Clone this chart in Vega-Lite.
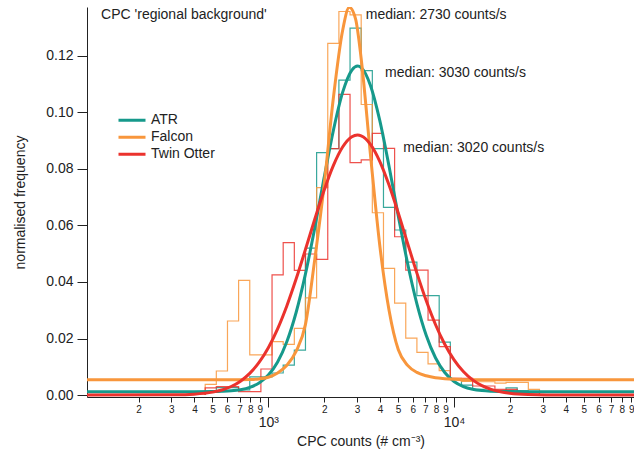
{
  "$schema": "https://vega.github.io/schema/vega-lite/v6.json",
  "width": 547,
  "height": 390,
  "autosize": "none",
  "padding": {"left": 87, "top": 7, "right": 0, "bottom": 53},
  "background": "white",
  "config": {
    "view": {"stroke": null},
    "font": "Liberation Sans",
    "axis": {"grid": false, "domainColor": "#222", "tickColor": "#222", "labelColor": "#222", "titleColor": "#222", "labelFont": "Liberation Sans", "titleFont": "Liberation Sans", "titleFontWeight": "normal"}
  },
  "datasets": {
    "hist": [
      {"s": "ATR", "i": 0, "x": 457.1, "y": 0},
      {"s": "ATR", "i": 1, "x": 457.1, "y": 0.0012},
      {"s": "ATR", "i": 2, "x": 524.8, "y": 0.0026},
      {"s": "ATR", "i": 3, "x": 602.6, "y": 0.0026},
      {"s": "ATR", "i": 4, "x": 691.8, "y": 0.0018},
      {"s": "ATR", "i": 5, "x": 794.3, "y": 0.0064},
      {"s": "ATR", "i": 6, "x": 912.0, "y": 0.0064},
      {"s": "ATR", "i": 7, "x": 1047.1, "y": 0.0078},
      {"s": "ATR", "i": 8, "x": 1202.3, "y": 0.0106},
      {"s": "ATR", "i": 9, "x": 1380.4, "y": 0.0159},
      {"s": "ATR", "i": 10, "x": 1584.9, "y": 0.052},
      {"s": "ATR", "i": 11, "x": 1819.7, "y": 0.0858},
      {"s": "ATR", "i": 12, "x": 2089.3, "y": 0.0872},
      {"s": "ATR", "i": 13, "x": 2398.8, "y": 0.1114},
      {"s": "ATR", "i": 14, "x": 2754.2, "y": 0.1298},
      {"s": "ATR", "i": 15, "x": 3162.3, "y": 0.1148},
      {"s": "ATR", "i": 16, "x": 3630.8, "y": 0.0872},
      {"s": "ATR", "i": 17, "x": 4168.7, "y": 0.0664},
      {"s": "ATR", "i": 18, "x": 4786.3, "y": 0.0584},
      {"s": "ATR", "i": 19, "x": 5495.4, "y": 0.047},
      {"s": "ATR", "i": 20, "x": 6309.6, "y": 0.0352},
      {"s": "ATR", "i": 21, "x": 7244.4, "y": 0.0352},
      {"s": "ATR", "i": 22, "x": 8317.6, "y": 0.0187},
      {"s": "ATR", "i": 23, "x": 9549.9, "y": 0.0055},
      {"s": "ATR", "i": 24, "x": 10964.8, "y": 0.0035},
      {"s": "ATR", "i": 25, "x": 12589.3, "y": 0.002},
      {"s": "ATR", "i": 26, "x": 14454.4, "y": 0.0015},
      {"s": "ATR", "i": 27, "x": 16595.9, "y": 0.0015},
      {"s": "ATR", "i": 28, "x": 19054.6, "y": 0.0025},
      {"s": "ATR", "i": 29, "x": 21877.6, "y": 0.0015},
      {"s": "ATR", "i": 30, "x": 25118.9, "y": 0.0012},
      {"s": "ATR", "i": 31, "x": 28840.3, "y": 0},
      {"s": "Falcon", "i": 0, "x": 457.1, "y": 0},
      {"s": "Falcon", "i": 1, "x": 457.1, "y": 0.0038},
      {"s": "Falcon", "i": 2, "x": 524.8, "y": 0.0085},
      {"s": "Falcon", "i": 3, "x": 602.6, "y": 0.0262},
      {"s": "Falcon", "i": 4, "x": 691.8, "y": 0.0406},
      {"s": "Falcon", "i": 5, "x": 794.3, "y": 0.0142},
      {"s": "Falcon", "i": 6, "x": 912.0, "y": 0.0142},
      {"s": "Falcon", "i": 7, "x": 1047.1, "y": 0.0189},
      {"s": "Falcon", "i": 8, "x": 1202.3, "y": 0.0179},
      {"s": "Falcon", "i": 9, "x": 1380.4, "y": 0.0236},
      {"s": "Falcon", "i": 10, "x": 1584.9, "y": 0.0344},
      {"s": "Falcon", "i": 11, "x": 1819.7, "y": 0.0734},
      {"s": "Falcon", "i": 12, "x": 2089.3, "y": 0.1244},
      {"s": "Falcon", "i": 13, "x": 2398.8, "y": 0.1357},
      {"s": "Falcon", "i": 14, "x": 2754.2, "y": 0.1345},
      {"s": "Falcon", "i": 15, "x": 3162.3, "y": 0.1028},
      {"s": "Falcon", "i": 16, "x": 3630.8, "y": 0.0645},
      {"s": "Falcon", "i": 17, "x": 4168.7, "y": 0.0448},
      {"s": "Falcon", "i": 18, "x": 4786.3, "y": 0.0325},
      {"s": "Falcon", "i": 19, "x": 5495.4, "y": 0.0201},
      {"s": "Falcon", "i": 20, "x": 6309.6, "y": 0.0151},
      {"s": "Falcon", "i": 21, "x": 7244.4, "y": 0.011},
      {"s": "Falcon", "i": 22, "x": 8317.6, "y": 0.0086},
      {"s": "Falcon", "i": 23, "x": 9549.9, "y": 0.0059},
      {"s": "Falcon", "i": 24, "x": 10964.8, "y": 0.0048},
      {"s": "Falcon", "i": 25, "x": 12589.3, "y": 0.0047},
      {"s": "Falcon", "i": 26, "x": 14454.4, "y": 0.0047},
      {"s": "Falcon", "i": 27, "x": 16595.9, "y": 0.0042},
      {"s": "Falcon", "i": 28, "x": 19054.6, "y": 0.0045},
      {"s": "Falcon", "i": 29, "x": 21877.6, "y": 0.0045},
      {"s": "Falcon", "i": 30, "x": 25118.9, "y": 0.002},
      {"s": "Falcon", "i": 31, "x": 28840.3, "y": 0},
      {"s": "Twin Otter", "i": 0, "x": 457.1, "y": 0},
      {"s": "Twin Otter", "i": 1, "x": 457.1, "y": 0.0025},
      {"s": "Twin Otter", "i": 2, "x": 524.8, "y": 0.003},
      {"s": "Twin Otter", "i": 3, "x": 602.6, "y": 0.003},
      {"s": "Twin Otter", "i": 4, "x": 691.8, "y": 0.0012},
      {"s": "Twin Otter", "i": 5, "x": 794.3, "y": 0.0012},
      {"s": "Twin Otter", "i": 6, "x": 912.0, "y": 0.0092},
      {"s": "Twin Otter", "i": 7, "x": 1047.1, "y": 0.0425},
      {"s": "Twin Otter", "i": 8, "x": 1202.3, "y": 0.0539},
      {"s": "Twin Otter", "i": 9, "x": 1380.4, "y": 0.0441},
      {"s": "Twin Otter", "i": 10, "x": 1584.9, "y": 0.0499},
      {"s": "Twin Otter", "i": 11, "x": 1819.7, "y": 0.048},
      {"s": "Twin Otter", "i": 12, "x": 2089.3, "y": 0.0872},
      {"s": "Twin Otter", "i": 13, "x": 2398.8, "y": 0.1064},
      {"s": "Twin Otter", "i": 14, "x": 2754.2, "y": 0.0822},
      {"s": "Twin Otter", "i": 15, "x": 3162.3, "y": 0.0832},
      {"s": "Twin Otter", "i": 16, "x": 3630.8, "y": 0.0926},
      {"s": "Twin Otter", "i": 17, "x": 4168.7, "y": 0.0873},
      {"s": "Twin Otter", "i": 18, "x": 4786.3, "y": 0.056},
      {"s": "Twin Otter", "i": 19, "x": 5495.4, "y": 0.0442},
      {"s": "Twin Otter", "i": 20, "x": 6309.6, "y": 0.0442},
      {"s": "Twin Otter", "i": 21, "x": 7244.4, "y": 0.0265},
      {"s": "Twin Otter", "i": 22, "x": 8317.6, "y": 0.0171},
      {"s": "Twin Otter", "i": 23, "x": 9549.9, "y": 0.0059},
      {"s": "Twin Otter", "i": 24, "x": 10964.8, "y": 0.0059},
      {"s": "Twin Otter", "i": 25, "x": 12589.3, "y": 0.0032},
      {"s": "Twin Otter", "i": 26, "x": 14454.4, "y": 0.0032},
      {"s": "Twin Otter", "i": 27, "x": 16595.9, "y": 0.002},
      {"s": "Twin Otter", "i": 28, "x": 19054.6, "y": 0.002},
      {"s": "Twin Otter", "i": 29, "x": 21877.6, "y": 0.0008},
      {"s": "Twin Otter", "i": 30, "x": 25118.9, "y": 0.0008},
      {"s": "Twin Otter", "i": 31, "x": 28840.3, "y": 0}
    ],
    "fit": [
      {"s": "ATR", "x": 100, "y": 0.0012},
      {"s": "ATR", "x": 398.1, "y": 0.0012},
      {"s": "ATR", "x": 501.2, "y": 0.00124},
      {"s": "ATR", "x": 562.3, "y": 0.00132},
      {"s": "ATR", "x": 631.0, "y": 0.00149},
      {"s": "ATR", "x": 707.9, "y": 0.00188},
      {"s": "ATR", "x": 794.3, "y": 0.00269},
      {"s": "ATR", "x": 891.3, "y": 0.00424},
      {"s": "ATR", "x": 1000, "y": 0.00705},
      {"s": "ATR", "x": 1122.0, "y": 0.01172},
      {"s": "ATR", "x": 1258.9, "y": 0.01895},
      {"s": "ATR", "x": 1412.5, "y": 0.02929},
      {"s": "ATR", "x": 1584.9, "y": 0.04286},
      {"s": "ATR", "x": 1778.3, "y": 0.05912},
      {"s": "ATR", "x": 1995.3, "y": 0.07674},
      {"s": "ATR", "x": 2238.7, "y": 0.09354},
      {"s": "ATR", "x": 2511.9, "y": 0.10707},
      {"s": "ATR", "x": 2818.4, "y": 0.11498},
      {"s": "ATR", "x": 3027, "y": 0.1164},
      {"s": "ATR", "x": 3162.3, "y": 0.11587},
      {"s": "ATR", "x": 3548.1, "y": 0.10955},
      {"s": "ATR", "x": 3981.1, "y": 0.09719},
      {"s": "ATR", "x": 4466.8, "y": 0.08093},
      {"s": "ATR", "x": 5011.9, "y": 0.0633},
      {"s": "ATR", "x": 5623.4, "y": 0.04655},
      {"s": "ATR", "x": 6309.6, "y": 0.03225},
      {"s": "ATR", "x": 7079.5, "y": 0.02113},
      {"s": "ATR", "x": 7943.3, "y": 0.01319},
      {"s": "ATR", "x": 8912.5, "y": 0.00797},
      {"s": "ATR", "x": 10000, "y": 0.00478},
      {"s": "ATR", "x": 11220, "y": 0.00298},
      {"s": "ATR", "x": 12589, "y": 0.00203},
      {"s": "ATR", "x": 14125, "y": 0.00156},
      {"s": "ATR", "x": 15849, "y": 0.00135},
      {"s": "ATR", "x": 17783, "y": 0.00126},
      {"s": "ATR", "x": 19953, "y": 0.00122},
      {"s": "ATR", "x": 25119, "y": 0.0012},
      {"s": "ATR", "x": 100000, "y": 0.0012},
      {"s": "Falcon", "x": 100, "y": 0.0054},
      {"s": "Falcon", "x": 631.0, "y": 0.0054},
      {"s": "Falcon", "x": 794.3, "y": 0.0055},
      {"s": "Falcon", "x": 891.3, "y": 0.0057},
      {"s": "Falcon", "x": 1000, "y": 0.0063},
      {"s": "Falcon", "x": 1122.0, "y": 0.0078},
      {"s": "Falcon", "x": 1258.9, "y": 0.0105},
      {"s": "Falcon", "x": 1412.5, "y": 0.0155},
      {"s": "Falcon", "x": 1584.9, "y": 0.025},
      {"s": "Falcon", "x": 1778.3, "y": 0.048},
      {"s": "Falcon", "x": 1995.3, "y": 0.074},
      {"s": "Falcon", "x": 2238.7, "y": 0.105},
      {"s": "Falcon", "x": 2511.9, "y": 0.129},
      {"s": "Falcon", "x": 2729, "y": 0.1372},
      {"s": "Falcon", "x": 2951, "y": 0.133},
      {"s": "Falcon", "x": 3162.3, "y": 0.119},
      {"s": "Falcon", "x": 3548.1, "y": 0.085},
      {"s": "Falcon", "x": 3981.1, "y": 0.053},
      {"s": "Falcon", "x": 4466.8, "y": 0.03},
      {"s": "Falcon", "x": 5011.9, "y": 0.016},
      {"s": "Falcon", "x": 5623.4, "y": 0.0105},
      {"s": "Falcon", "x": 6309.6, "y": 0.008},
      {"s": "Falcon", "x": 7079.5, "y": 0.0068},
      {"s": "Falcon", "x": 7943.3, "y": 0.0061},
      {"s": "Falcon", "x": 8912.5, "y": 0.0058},
      {"s": "Falcon", "x": 10000, "y": 0.0056},
      {"s": "Falcon", "x": 12589, "y": 0.0054},
      {"s": "Falcon", "x": 100000, "y": 0.0054},
      {"s": "Twin Otter", "x": 100, "y": 0},
      {"s": "Twin Otter", "x": 316.2, "y": 0.00008},
      {"s": "Twin Otter", "x": 398.1, "y": 0.0003},
      {"s": "Twin Otter", "x": 501.2, "y": 0.00102},
      {"s": "Twin Otter", "x": 562.3, "y": 0.00179},
      {"s": "Twin Otter", "x": 631.0, "y": 0.00301},
      {"s": "Twin Otter", "x": 707.9, "y": 0.00489},
      {"s": "Twin Otter", "x": 794.3, "y": 0.00764},
      {"s": "Twin Otter", "x": 891.3, "y": 0.01152},
      {"s": "Twin Otter", "x": 1000, "y": 0.01674},
      {"s": "Twin Otter", "x": 1122.0, "y": 0.02343},
      {"s": "Twin Otter", "x": 1258.9, "y": 0.03162},
      {"s": "Twin Otter", "x": 1412.5, "y": 0.04111},
      {"s": "Twin Otter", "x": 1584.9, "y": 0.05152},
      {"s": "Twin Otter", "x": 1778.3, "y": 0.06221},
      {"s": "Twin Otter", "x": 1995.3, "y": 0.0724},
      {"s": "Twin Otter", "x": 2238.7, "y": 0.08119},
      {"s": "Twin Otter", "x": 2511.9, "y": 0.08775},
      {"s": "Twin Otter", "x": 2818.4, "y": 0.09139},
      {"s": "Twin Otter", "x": 3020, "y": 0.092},
      {"s": "Twin Otter", "x": 3162.3, "y": 0.09173},
      {"s": "Twin Otter", "x": 3548.1, "y": 0.08873},
      {"s": "Twin Otter", "x": 3981.1, "y": 0.08271},
      {"s": "Twin Otter", "x": 4466.8, "y": 0.07429},
      {"s": "Twin Otter", "x": 5011.9, "y": 0.06432},
      {"s": "Twin Otter", "x": 5623.4, "y": 0.05366},
      {"s": "Twin Otter", "x": 6309.6, "y": 0.04314},
      {"s": "Twin Otter", "x": 7079.5, "y": 0.03342},
      {"s": "Twin Otter", "x": 7943.3, "y": 0.02496},
      {"s": "Twin Otter", "x": 8912.5, "y": 0.01796},
      {"s": "Twin Otter", "x": 10000, "y": 0.01245},
      {"s": "Twin Otter", "x": 11220, "y": 0.00832},
      {"s": "Twin Otter", "x": 12589, "y": 0.00536},
      {"s": "Twin Otter", "x": 14125, "y": 0.00332},
      {"s": "Twin Otter", "x": 15849, "y": 0.00199},
      {"s": "Twin Otter", "x": 17783, "y": 0.00115},
      {"s": "Twin Otter", "x": 19953, "y": 0.00064},
      {"s": "Twin Otter", "x": 25119, "y": 0.00018},
      {"s": "Twin Otter", "x": 31623, "y": 0.00005},
      {"s": "Twin Otter", "x": 100000, "y": 0}
    ],
    "notes": [
      {"t": "CPC 'regional background'", "x": 125.8, "y": 0.1345},
      {"t": "median: 2730 counts/s", "x": 3346, "y": 0.1343},
      {"t": "median: 3030 counts/s", "x": 4251, "y": 0.1139},
      {"t": "median: 3020 counts/s", "x": 5333, "y": 0.0875}
    ]
  },
  "layer": [
    {
      "data": {"name": "hist"},
      "mark": {"type": "line", "interpolate": "step-after", "strokeWidth": 1.2, "opacity": 0.85, "clip": true},
      "encoding": {
        "x": {
          "field": "x", "type": "quantitative",
          "scale": {"type": "log", "domain": [105.6, 93100], "nice": false},
          "axis": {"orient": "bottom", "title": null, "values": [200, 300, 400, 500, 600, 700, 800, 900, 2000, 3000, 4000, 5000, 6000, 7000, 8000, 9000, 20000, 30000, 40000, 50000, 60000, 70000, 80000, 90000], "labelExpr": "substring(toString(datum.value), 0, 1)", "tickSize": 5, "labelFontSize": 10, "labelPadding": 2, "labelOverlap": false, "labelFlush": false, "domain": true}
        },
        "y": {
          "field": "y", "type": "quantitative",
          "scale": {"domain": [-0.0007, 0.1373], "nice": false, "zero": false},
          "axis": {"values": [0, 0.02, 0.04, 0.06, 0.08, 0.1, 0.12], "format": ".2f", "tickSize": 10, "labelFontSize": 14, "labelPadding": 4, "title": "normalised frequency", "titleFontSize": 14, "titlePadding": 18, "labelFlush": false}
        },
        "color": {
          "field": "s", "type": "nominal",
          "scale": {"domain": ["ATR", "Falcon", "Twin Otter"], "range": ["#16998b", "#f8963c", "#eb322d"]},
          "legend": {"orient": "none", "legendX": 30, "legendY": 105, "title": null, "symbolType": "stroke", "symbolSize": 729, "symbolStrokeWidth": 3, "symbolOpacity": 1, "labelFontSize": 14, "labelColor": "#222", "labelOffset": 4, "rowPadding": 0, "clipHeight": 16.7, "padding": 0}
        },
        "order": {"field": "i", "type": "quantitative"}
      }
    },
    {
      "data": {"name": "fit"},
      "mark": {"type": "line", "interpolate": "monotone", "strokeWidth": 3, "clip": true},
      "encoding": {
        "x": {
          "field": "x", "type": "quantitative",
          "axis": {"orient": "bottom", "values": [1000, 10000], "labelExpr": "datum.value == 1000 ? '10³' : '10⁴'", "tickSize": 10, "labelFontSize": 14, "labelPadding": 8, "labelOverlap": false, "labelFlush": false, "domain": false, "title": "CPC counts (# cm⁻³)", "titleFontSize": 14, "titlePadding": 5}
        },
        "y": {"field": "y", "type": "quantitative", "axis": null},
        "color": {"field": "s", "type": "nominal"}
      }
    },
    {
      "data": {"name": "notes"},
      "mark": {"type": "text", "align": "left", "baseline": "middle", "fontSize": 14, "color": "#222"},
      "encoding": {
        "x": {"field": "x", "type": "quantitative", "axis": null},
        "y": {"field": "y", "type": "quantitative", "axis": null},
        "text": {"field": "t"}
      }
    }
  ],
  "resolve": {"axis": {"x": "independent", "y": "independent"}}
}
